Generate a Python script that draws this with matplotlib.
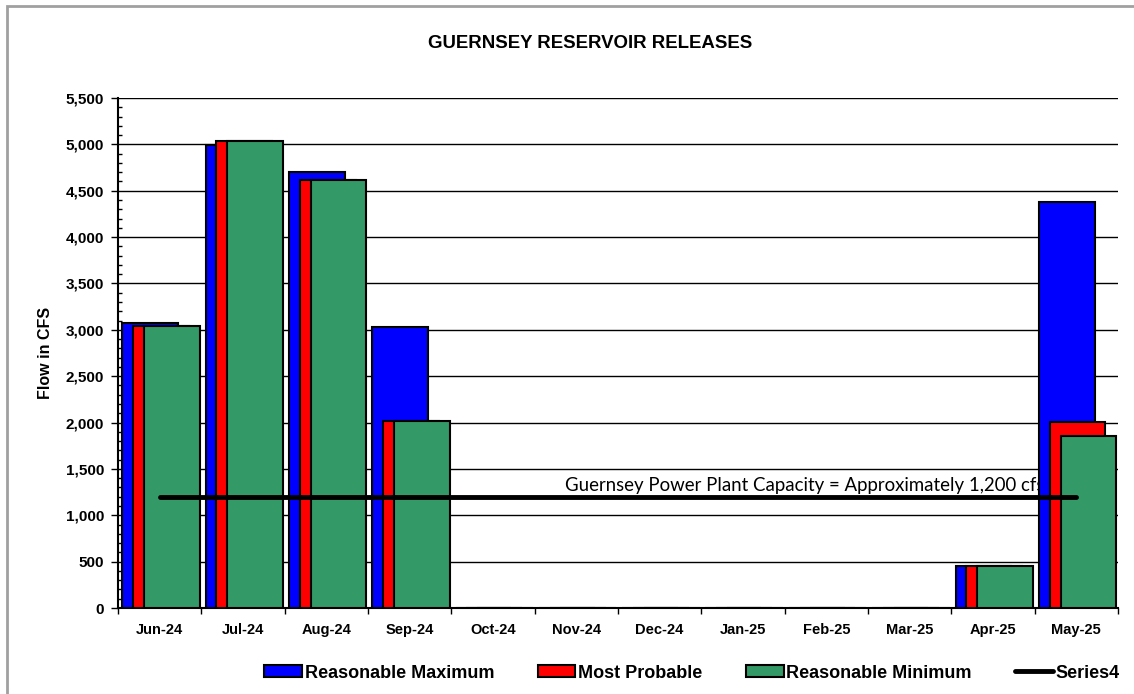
import numpy as np
import matplotlib.pyplot as plt
from matplotlib.patches import Rectangle
from matplotlib.ticker import MultipleLocator, FuncFormatter

# Data
months = ["Jun-24", "Jul-24", "Aug-24", "Sep-24", "Oct-24", "Nov-24",
          "Dec-24", "Jan-25", "Feb-25", "Mar-25", "Apr-25", "May-25"]
reasonable_max = [3070, 4990, 4700, 3030, 0, 0, 0, 0, 0, 0, 455, 4380]
most_probable = [3040, 5040, 4620, 2020, 0, 0, 0, 0, 0, 0, 455, 2010]
reasonable_min = [3040, 5040, 4620, 2020, 0, 0, 0, 0, 0, 0, 455, 1850]
capacity = 1200

plt.rcParams['font.family'] = ['Liberation Sans', 'DejaVu Sans']

fig = plt.figure(figsize=(11.34, 6.94), dpi=100)
ax = fig.add_axes([118 / 1134, 1 - 608 / 694, 1000 / 1134, 510 / 694])

# grey frame around the chart
fig.patches.append(Rectangle((7 / 1134, -0.1), 1.2, 1 - 6 / 694 + 0.1,
                             transform=fig.transFigure, fill=False,
                             edgecolor='#a0a0a0', linewidth=2))

x = np.arange(len(months))
w = 0.67
b1 = ax.bar(x - 0.45, reasonable_max, width=w, align='edge', color='#0000ff',
            edgecolor='black', linewidth=1.5, zorder=3)
b2 = ax.bar(x - 0.32, most_probable, width=w, align='edge', color='#ff0000',
            edgecolor='black', linewidth=1.5, zorder=3)
b3 = ax.bar(x - 0.19, reasonable_min, width=w, align='edge', color='#339966',
            edgecolor='black', linewidth=1.5, zorder=3)
ln, = ax.plot([x[0], x[-1]], [capacity, capacity], color='black', linewidth=3.5,
              solid_capstyle='round', zorder=4)

ax.text(4.86, 1320, "Guernsey Power Plant Capacity = Approximately 1,200 cfs",
        fontsize=13.4, family=['Lato', 'DejaVu Sans'], ha='left', va='center',
        zorder=2)

ax.set_xlim(-0.5, len(months) - 0.5)
ax.set_ylim(0, 5500)
ax.yaxis.set_major_locator(MultipleLocator(500))
ax.yaxis.set_minor_locator(MultipleLocator(100))
ax.yaxis.set_major_formatter(FuncFormatter(lambda v, p: f"{int(v):,}"))
ax.grid(axis='y', which='major', color='black', linewidth=1, zorder=0)
ax.set_axisbelow(True)

ax.set_xticks(x)
ax.set_xticklabels(months)
ax.set_xticks(np.arange(-0.5, len(months)), minor=True)
ax.tick_params(axis='x', which='major', length=0, pad=11)
ax.tick_params(axis='x', which='minor', length=4, direction='out', width=1)
ax.tick_params(axis='y', which='major', length=5, direction='out', width=1, pad=5)
ax.tick_params(axis='y', which='minor', length=3, direction='in', width=1)
for lab in ax.get_xticklabels():
    lab.set_fontweight('bold')
    lab.set_fontsize(10.5)
for lab in ax.get_yticklabels():
    lab.set_fontweight('bold')
    lab.set_fontsize(11)

ax.spines['top'].set_visible(False)
ax.spines['right'].set_visible(False)
ax.spines['left'].set_linewidth(1.5)
ax.spines['bottom'].set_linewidth(1.5)

ax.set_ylabel("Flow in CFS", fontsize=11.5, fontweight='bold', labelpad=9)
fig.text(590 / 1134, 1 - 43 / 694, "GUERNSEY RESERVOIR RELEASES", fontsize=13.4,
         fontweight='bold', ha='center', va='center')

fig.legend([b1, b2, b3, ln],
           ['Reasonable Maximum', 'Most Probable', 'Reasonable Minimum', 'Series4'],
           loc='center', bbox_to_anchor=(692 / 1134, 1 - 673 / 694), ncol=4,
           frameon=False, prop={'weight': 'bold', 'size': 13},
           handlelength=2.1, handleheight=0.6, columnspacing=2.4,
           handletextpad=0.15)

fig.savefig("out.png", dpi=100)
